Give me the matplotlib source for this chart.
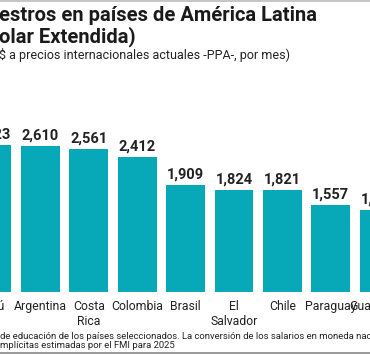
import matplotlib
matplotlib.use("Agg")
import matplotlib.pyplot as plt
from matplotlib import font_manager

names = {f.name for f in font_manager.fontManager.ttflist}
NARROW = 'Liberation Sans Narrow' if 'Liberation Sans Narrow' in names else 'Roboto'

countries = ["Perú", "Argentina", "Costa\nRica", "Colombia", "Brasil", "El\nSalvador",
             "Chile", "Paraguay", "Guatemala"]
values = [2623, 2610, 2561, 2412, 1909, 1824, 1821, 1557, 1470]
value_labels = ["2,623", "2,610", "2,561", "2,412", "1,909", "1,824", "1,821", "1,557", "1,470"]

title1 = "estros en países de América Latina"
title2 = "olar Extendida)"
subtitle = "$ a precios internacionales actuales -PPA-, por mes)"
foot1 = "de educación de los países seleccionados. La conversión de los salarios en moneda nacional"
foot2 = "mplícitas estimadas por el FMI para 2025"

W, H = 370, 354
fig = plt.figure(figsize=(W / 100, H / 100), dpi=100)
fig.patch.set_facecolor("white")

def px(x, y):
    return x / W, 1 - y / H

ax_bottom = 292
ax_top = 120
ax = fig.add_axes([0, 1 - ax_bottom / H, 1, (ax_bottom - ax_top) / H])
ax.set_axis_off()
step = 48.4
x0 = -8.0
ax.set_xlim((0 - x0) / step, (W - x0) / step)
ymax = (ax_bottom - ax_top) * 17.9
ax.set_ylim(0, ymax)

xs = list(range(len(countries)))
ax.bar(xs, values, width=0.8, color="#07A9B9", zorder=2)
for x, v, lab in zip(xs, values, value_labels):
    ax.annotate(lab, (x, v), xytext=(0, 2.5), textcoords="offset points",
                ha="center", va="bottom", fontsize=10.5, fontweight="bold",
                color="#222222", family=[NARROW, "DejaVu Sans"], annotation_clip=False)

ax.axhline(0, color="#9a9a9a", lw=0.8, zorder=3)

for x, c in zip(xs, countries):
    ax.annotate(c, (x, 0), xytext=(0, -5.5), textcoords="offset points",
                ha="center", va="top", fontsize=8.8, color="#222222",
                linespacing=1.2, family=[NARROW, "DejaVu Sans"], annotation_clip=False)

fig.text(*px(-1, 21), title1, fontsize=14.5, fontweight="bold", color="#1a1a1a",
         family=[NARROW, "DejaVu Sans"], va="baseline", ha="left")
fig.text(*px(-1, 42), title2, fontsize=14.5, fontweight="bold", color="#1a1a1a",
         family=[NARROW, "DejaVu Sans"], va="baseline", ha="left")
fig.text(*px(-1, 59), subtitle, fontsize=9, color="#222222",
         family=[NARROW, "DejaVu Sans"], va="baseline", ha="left")

fig.text(*px(0, 339), foot1, fontsize=6.8, color="#222222",
         family=[NARROW, "DejaVu Sans"], va="baseline", ha="left")
fig.text(*px(0, 348), foot2, fontsize=6.8, color="#222222",
         family=[NARROW, "DejaVu Sans"], va="baseline", ha="left")

fig.add_artist(plt.Line2D([0, 1], [1 - 0.5 / H, 1 - 0.5 / H], color="#bbbbbb", lw=1.2,
                          transform=fig.transFigure))
fig.add_artist(plt.Line2D([0, 1], [1 - 352.5 / H, 1 - 352.5 / H], color="#888888", lw=1.2,
                          transform=fig.transFigure))

fig.savefig("out.png", dpi=100)
